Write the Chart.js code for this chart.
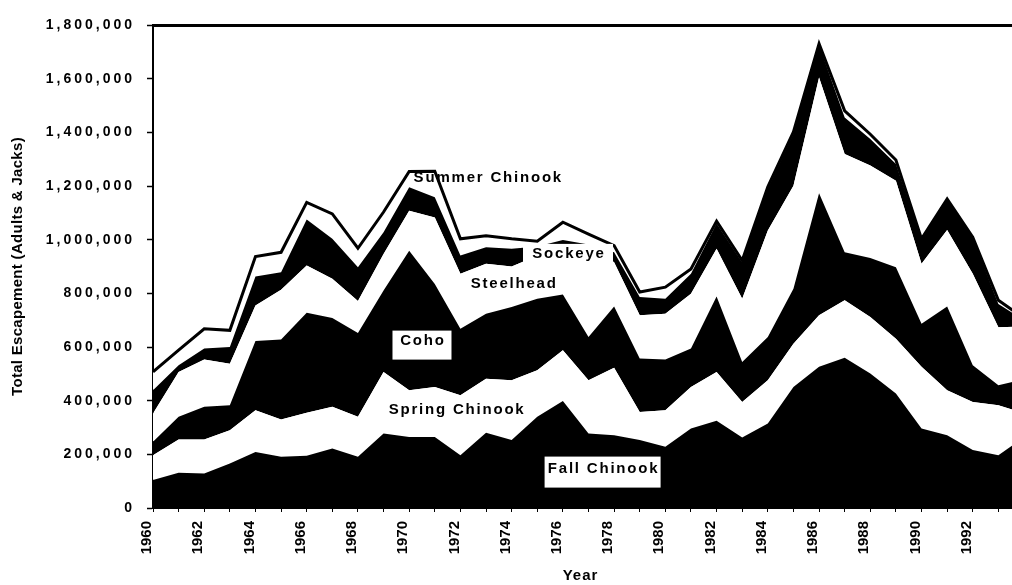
<!DOCTYPE html>
<html>
<head>
<meta charset="utf-8">
<script src="https://cdn.jsdelivr.net/npm/chart.js@4.4.1/dist/chart.umd.min.js"></script>
<style>
html,body{margin:0;padding:0;background:#fff;overflow:hidden;width:1012px;height:585px}
#wrap{width:1051px;height:585px;position:relative}
</style>
</head>
<body>
<div id="wrap"><canvas id="c" width="1051" height="585"></canvas></div>
<script>
// ---- data (escapement, adults & jacks) ----
const years = ['1960','1961','1962','1963','1964','1965','1966','1967','1968','1969',
               '1970','1971','1972','1973','1974','1975','1976','1977','1978','1979',
               '1980','1981','1982','1983','1984','1985','1986','1987','1988','1989',
               '1990','1991','1992','1993','1994'];
const fallChinook   = [104000,131000,129000,166000,209000,191000,195000,222000,191000,278000,
                       265000,265000,197000,280000,253000,340000,399000,278000,271000,253000,
                       228000,296000,325000,263000,315000,451000,526000,560000,501000,427000,
                       296000,271000,216000,197000,264000];
const springChinook = [93000,124000,126000,124000,155000,139000,160000,155000,149000,229000,
                       174000,186000,223000,202000,223000,173000,189000,198000,252000,105000,
                       136000,155000,182000,132000,161000,161000,192000,214000,211000,204000,
                       230000,168000,179000,186000,89000];
const coho          = [50000,85000,122000,93000,258000,298000,373000,331000,312000,304000,
                       520000,384000,248000,242000,273000,267000,208000,161000,228000,199000,
                       189000,143000,281000,149000,161000,205000,455000,179000,220000,266000,
                       161000,312000,137000,74000,127000];
const steelhead     = [105000,167000,176000,155000,133000,185000,176000,146000,119000,136000,
                       149000,248000,205000,186000,151000,160000,186000,345000,165000,161000,
                       171000,204000,178000,236000,397000,384000,431000,366000,344000,323000,
                       223000,285000,341000,217000,196000];
const sockeye       = [87000,25000,41000,62000,108000,66000,171000,149000,126000,81000,
                       87000,75000,68000,62000,66000,35000,17000,0,37000,68000,
                       56000,75000,94000,135000,156000,194000,121000,136000,99000,62000,
                       90000,112000,132000,86000,24000];
const summerChinook = [68000,56000,74000,62000,74000,74000,64000,93000,71000,75000,
                       59000,97000,62000,43000,37000,19000,66000,39000,25000,19000,
                       43000,18000,9000,7000,7000,7000,5000,25000,18000,15000,
                       3000,4000,4000,14000,7000];
const yMax = 1800000;
const yStep = 200000;

// in-chart species labels (data coordinates: year, escapement)
const speciesLabels = [
  {text:'Summer Chinook', year:1973.05, value:1230000},
  {text:'Sockeye',        year:1976.2,  value:947000, box:{w:90,h:20,dy:0}},
  {text:'Steelhead',      year:1974.06, value:835000},
  {text:'Coho',           year:1970.5,  value:622000, box:{w:59,h:29,dy:4}},
  {text:'Spring Chinook', year:1971.83, value:365000},
  {text:'Fall Chinook',   year:1977.55, value:145000, box:{w:116,h:31,dy:3}}
];

const FONT = '"Liberation Sans", Arial, Helvetica, sans-serif';
const BLACK = '#000000', WHITE = '#ffffff';

function area(label, data, color, first, top) {
  return {
    label, data,
    backgroundColor: color,
    borderColor: top ? BLACK : 'rgba(0,0,0,0)',
    borderWidth: top ? 3 : 0,
    borderJoinStyle: 'miter',
    fill: first ? 'origin' : '-1',
    pointRadius: 0, tension: 0
  };
}

function patchSpacing(scale, labelsSpacing, titleSpacing, titleShiftX) {
  if (scale._spPatched) return;
  scale._spPatched = true;
  const dl = scale.drawLabels.bind(scale);
  const dt = scale.drawTitle.bind(scale);
  scale.drawLabels = function(ca) {
    const ctx = scale.ctx; const p = ctx.letterSpacing;
    ctx.letterSpacing = labelsSpacing; dl(ca); ctx.letterSpacing = p;
  };
  scale.drawTitle = function(ca) {
    const ctx = scale.ctx;
    ctx.save();
    ctx.letterSpacing = titleSpacing;
    ctx.translate(titleShiftX || 0, 0);
    dt(ca);
    ctx.restore();
  };
}

const labelPlugin = {
  id: 'speciesLabels',
  afterDatasetsDraw(chart) {
    const {ctx} = chart;
    const xs = chart.scales.x, ys = chart.scales.y;
    const y0 = Number(years[0]);
    ctx.save();
    ctx.font = 'bold 15px ' + FONT;
    ctx.letterSpacing = '1.8px';
    ctx.textAlign = 'center';
    ctx.textBaseline = 'middle';
    for (const L of speciesLabels) {
      const px = xs.getPixelForValue(L.year - y0);
      const py = ys.getPixelForValue(L.value);
      if (L.box) {
        ctx.fillStyle = WHITE;
        ctx.fillRect(px - L.box.w / 2, py + L.box.dy - L.box.h / 2, L.box.w, L.box.h);
      }
      ctx.fillStyle = BLACK;
      ctx.fillText(L.text, px + 1, py);
    }
    ctx.restore();
  }
};

new Chart(document.getElementById('c'), {
  type: 'line',
  data: {
    labels: years,
    datasets: [
      area('Fall Chinook', fallChinook, BLACK, true, false),
      area('Spring Chinook', springChinook, WHITE, false, false),
      area('Coho', coho, BLACK, false, false),
      area('Steelhead', steelhead, WHITE, false, false),
      area('Sockeye', sockeye, BLACK, false, false),
      area('Summer Chinook', summerChinook, WHITE, false, true)
    ]
  },
  options: {
    responsive: false,
    animation: false,
    devicePixelRatio: 1,
    layout: {padding: {top: 25, right: 19, bottom: 0, left: 0}},
    plugins: {legend: {display: false}, tooltip: {enabled: false}, title: {display: false}},
    scales: {
      x: {
        type: 'category',
        offset: false,
        grid: {display: true, drawOnChartArea: false, color: BLACK, tickColor: BLACK, tickLength: 4, tickWidth: 1, offset: false},
        border: {display: true, color: BLACK, width: 1},
        ticks: {
          autoSkip: false, minRotation: 90, maxRotation: 90, padding: 9, labelOffset: -6,
          color: BLACK, font: {family: FONT, size: 15, weight: 'bold'},
          callback: (v, i) => (i % 2 === 0 ? years[i] : '')
        },
        title: {display: true, text: 'Year', color: BLACK, font: {family: FONT, size: 15, weight: 'bold'}, padding: {top: 0, bottom: 0}},
        afterFit: (s) => { s.height = 77; },
        afterUpdate: (s) => patchSpacing(s, '0px', '1px', -8)
      },
      y: {
        stacked: true,
        min: 0, max: yMax,
        grid: {
          display: true, drawOnChartArea: true,
          color: (c) => (c.tick && c.tick.value === yMax ? BLACK : 'rgba(0,0,0,0)'),
          lineWidth: (c) => (c.tick && c.tick.value === yMax ? 3 : 1),
          tickColor: BLACK, tickLength: 6, tickWidth: 1.5
        },
        border: {display: true, color: BLACK, width: 2},
        ticks: {
          stepSize: yStep, padding: 12, color: BLACK,
          font: {family: FONT, size: 14, weight: 'bold'},
          callback: (v) => Number(v).toLocaleString('en-US')
        },
        title: {display: true, text: 'Total Escapement (Adults & Jacks)', color: BLACK,
                font: {family: FONT, size: 15, weight: 'bold'}, padding: {top: 9, bottom: 0}},
        afterFit: (s) => { s.width = 153; },
        afterUpdate: (s) => patchSpacing(s, '3px', '0.3px', 0)
      }
    }
  },
  plugins: [labelPlugin]
});
</script>
</body>
</html>
